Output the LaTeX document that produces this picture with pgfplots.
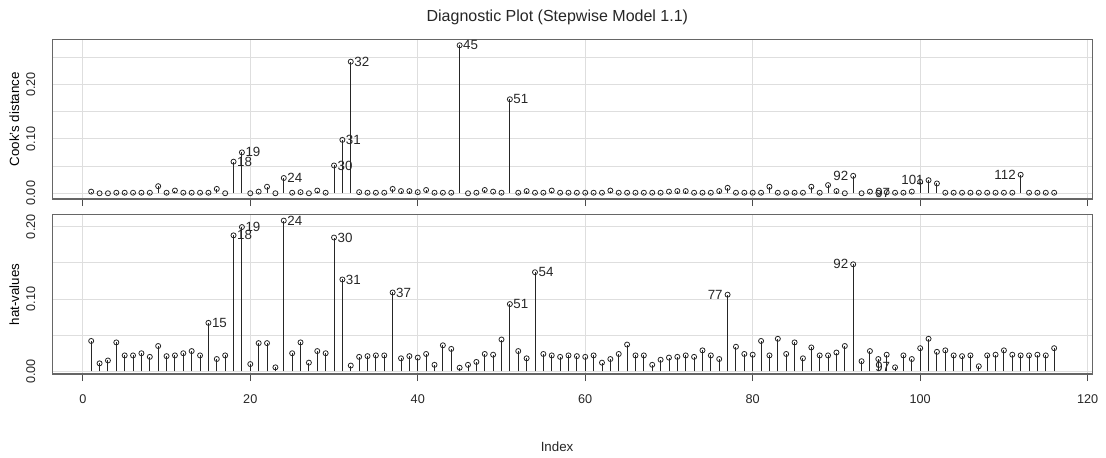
\documentclass[border=0pt]{standalone}
\usepackage{fontspec}
\setmainfont{Liberation Sans}
\usepackage{pgfplots}
\usepackage{pgfplotstable}
\pgfplotsset{compat=1.18}

% Influence measures per observation: Cook's distance and hat-values
\pgfplotstableread{
idx cook hat
1 0.003 0.042
2 0.000 0.011
3 0.000 0.015
4 0.001 0.040
5 0.001 0.022
6 0.001 0.022
7 0.001 0.025
8 0.001 0.020
9 0.013 0.035
10 0.001 0.021
11 0.005 0.022
12 0.001 0.025
13 0.001 0.028
14 0.001 0.022
15 0.001 0.067
16 0.008 0.017
17 0.000 0.022
18 0.058 0.188
19 0.075 0.1995
20 0.000 0.010
21 0.003 0.039
22 0.012 0.039
23 0.000 0.0055
24 0.028 0.2084
25 0.001 0.025
26 0.002 0.040
27 0.000 0.012
28 0.005 0.028
29 0.001 0.025
30 0.051 0.185
31 0.098 0.127
32 0.2415 0.008
33 0.002 0.020
34 0.001 0.021
35 0.001 0.022
36 0.001 0.022
37 0.008 0.109
38 0.004 0.018
39 0.004 0.021
40 0.002 0.019
41 0.006 0.024
42 0.001 0.009
43 0.001 0.036
44 0.001 0.031
45 0.2716 0.005
46 0.000 0.009
47 0.001 0.013
48 0.006 0.024
49 0.003 0.023
50 0.001 0.044
51 0.1725 0.093
52 0.001 0.028
53 0.004 0.018
54 0.001 0.137
55 0.001 0.024
56 0.005 0.022
57 0.001 0.020
58 0.001 0.022
59 0.001 0.021
60 0.001 0.020
61 0.001 0.022
62 0.001 0.012
63 0.005 0.017
64 0.001 0.024
65 0.001 0.037
66 0.001 0.022
67 0.001 0.022
68 0.001 0.009
69 0.001 0.016
70 0.003 0.019
71 0.004 0.020
72 0.004 0.022
73 0.001 0.020
74 0.001 0.029
75 0.001 0.022
76 0.004 0.017
77 0.010 0.106
78 0.001 0.034
79 0.001 0.024
80 0.001 0.023
81 0.001 0.042
82 0.012 0.022
83 0.001 0.045
84 0.001 0.024
85 0.001 0.040
86 0.001 0.018
87 0.012 0.033
88 0.001 0.022
89 0.015 0.022
90 0.004 0.026
91 0.000 0.035
92 0.032 0.148
93 0.000 0.014
94 0.003 0.028
95 0.001 0.017
96 0.002 0.023
97 0.001 0.0055
98 0.001 0.022
99 0.003 0.017
100 0.021 0.032
101 0.024 0.045
102 0.018 0.027
103 0.001 0.029
104 0.001 0.022
105 0.001 0.021
106 0.001 0.022
107 0.001 0.007
108 0.001 0.022
109 0.001 0.023
110 0.001 0.029
111 0.001 0.023
112 0.034 0.022
113 0.001 0.022
114 0.001 0.023
115 0.001 0.022
116 0.001 0.032
}\infl

\pgfplotsset{
  panel/.style={
    scale only axis, width=780pt,
    xmin=-3.6, xmax=120.6,
    xtick={0,20,...,120},
    minor ytick={0.05,0.15,0.25},
    tick align=outside, xtick pos=bottom, ytick pos=left,
    major tick length=5.25pt, minor tick length=0pt,
    ytick style={draw=none},
    xtick style={black!70, line width=0.75pt},
    grid=both,
    major grid style={black!13, line width=0.75pt},
    minor grid style={black!13, line width=0.75pt},
    axis line style={black!60, line width=1.1pt},
    tick label style={font=\fontsize{9.5}{11}\selectfont, black!85},
    label style={font=\fontsize{10}{12}\selectfont, black!85},
    xticklabel style={yshift=-6.5pt},
    yticklabel style={xshift=-11.25pt, rotate=90, anchor=center},
    every axis y label/.style={at={(axis description cs:-0.0368,0.5)}, rotate=90, anchor=center},
  },
  stem/.style={ycomb, black!85, line width=0.7pt, mark=o, mark size=1.9pt,
    mark options={line width=0.6pt, black!85}},
  labR/.style={only marks, mark=none, nodes near coords, point meta=explicit symbolic,
    nodes near coords style={anchor=west, inner xsep=2.5pt, inner ysep=0pt,
      font=\fontsize{10}{12}\selectfont, black!85}},
  labL/.style={only marks, mark=none, nodes near coords, point meta=explicit symbolic,
    nodes near coords style={anchor=east, inner xsep=3.5pt, inner ysep=0pt,
      font=\fontsize{10}{12}\selectfont, black!85}},
}

\begin{document}
\begin{tikzpicture}
\path[use as bounding box] (0,0) rectangle (829.5pt,-342.75pt);

% Cook's distance
\begin{axis}[panel, at={(39.5pt,-29.5pt)}, anchor=north west, height=119.9pt,
  ymin=-0.0109, ymax=0.2825,
  ytick={0,0.1,0.2}, yticklabels={0.00,0.10,0.20},
  xticklabels={},
  ylabel={Cook's distance}]
\addplot[stem] table[x=idx, y=cook] {\infl};
\addplot[labR] coordinates {(18,0.058)[18] (19,0.075)[19] (24,0.028)[24]
  (30,0.051)[30] (31,0.098)[31] (32,0.2415)[32] (45,0.2716)[45] (51,0.1725)[51]};
\addplot[labL] coordinates {(92,0.032)[92] (97,0.001)[97] (101,0.024)[101] (112,0.034)[112]};
\end{axis}

% Hat-values
\begin{axis}[panel, at={(39.5pt,-161.0pt)}, anchor=north west, height=119.5pt,
  ymin=-0.0037, ymax=0.2166,
  ytick={0,0.1,0.2}, yticklabels={0.00,0.10,0.20},
  xticklabels={0,20,40,60,80,100,120},
  ylabel={hat-values}]
\addplot[stem] table[x=idx, y=hat] {\infl};
\addplot[labR] coordinates {(15,0.067)[15] (18,0.188)[18] (19,0.1995)[19] (24,0.2084)[24]
  (30,0.185)[30] (31,0.127)[31] (37,0.109)[37] (51,0.093)[51] (54,0.137)[54]};
\addplot[labL] coordinates {(77,0.106)[77] (92,0.148)[92] (97,0.0055)[97]};
\end{axis}

\node[anchor=base, font=\fontsize{12}{14}\selectfont, black!85] at (418pt,-16.3pt)
  {Diagnostic Plot (Stepwise Model 1.1)};
\node[anchor=base, font=\fontsize{10}{12}\selectfont, black!85] at (417.8pt,-338.3pt) {Index};
\end{tikzpicture}
\end{document}
